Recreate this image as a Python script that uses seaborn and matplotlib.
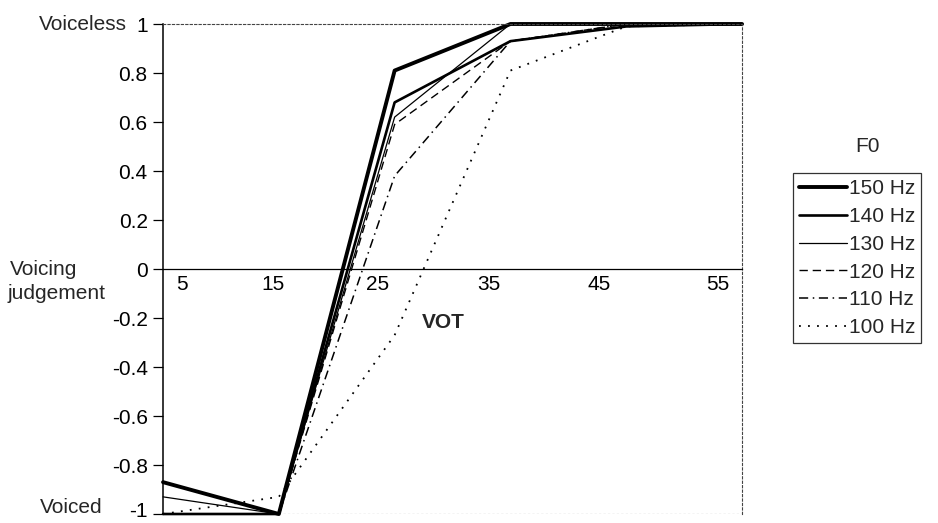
import matplotlib
matplotlib.use("Agg")
import matplotlib.pyplot as plt  # noqa: E402
import matplotlib.transforms as mtrans  # noqa: E402
import pandas as pd  # noqa: E402
import seaborn as sns  # noqa: E402

sns.set_theme(style="white")
plt.rcParams["font.family"] = ["Liberation Sans", "DejaVu Sans"]

FS = 15

# continuum steps along the VOT axis (one per stimulus)
vot_steps = [0, 1, 2, 3, 4, 5]
vot_labels = ["5", "15", "25", "35", "45", "55"]
vot_label_pos = [0.16, 0.95, 1.85, 2.81, 3.77, 4.79]

# mean voicing judgement (-1 voiced ... +1 voiceless) per F0 condition
f0_150 = [-0.87, -1.00, 0.81, 1.00, 1.00, 1.00]
f0_140 = [-1.00, -1.00, 0.68, 0.93, 0.99, 1.00]
f0_130 = [-0.93, -1.00, 0.62, 1.00, 1.00, 1.00]
f0_120 = [-1.00, -1.00, 0.59, 0.93, 1.00, 1.00]
f0_110 = [-1.00, -1.00, 0.38, 0.93, 1.00, 1.00]
f0_100 = [-1.00, -0.93, -0.27, 0.81, 0.99, 1.00]

series = {
    "150 Hz": f0_150,
    "140 Hz": f0_140,
    "130 Hz": f0_130,
    "120 Hz": f0_120,
    "110 Hz": f0_110,
    "100 Hz": f0_100,
}
# line width, line style
styles = {
    "150 Hz": (2.8, "-"),
    "140 Hz": (1.9, "-"),
    "130 Hz": (0.9, "-"),
    "120 Hz": (1.0, (0, (6, 3.5))),
    "110 Hz": (1.1, (0, (6, 3, 1, 3))),
    "100 Hz": (1.3, (0, (1, 4))),
}

y_ticks = [1, 0.8, 0.6, 0.4, 0.2, 0, -0.2, -0.4, -0.6, -0.8, -1]
y_tick_labels = ["1", "0.8", "0.6", "0.4", "0.2", "0",
                 "-0.2", "-0.4", "-0.6", "-0.8", "-1"]

fig = plt.figure(figsize=(9.38, 5.23), dpi=100)
ax = fig.add_axes([0.1738, 0.0172, 0.6173, 0.9369])

for name, vals in series.items():
    lw, ls = styles[name]
    df = pd.DataFrame({"step": vot_steps, "judgement": vals})
    sns.lineplot(data=df, x="step", y="judgement", ax=ax, color="black",
                 lw=lw, linestyle=ls, label=name, clip_on=False, legend=False)

ax.set_xlim(0, 5)
ax.set_ylim(-1, 1)

# category axis sits on the zero line
ax.spines["bottom"].set_position(("data", 0))
ax.spines["bottom"].set_color("black")
ax.spines["bottom"].set_linewidth(0.9)
ax.spines["left"].set_color("black")
ax.spines["left"].set_linewidth(1.1)
for s in ("top", "right"):
    ax.spines[s].set_color("#444444")
    ax.spines[s].set_linestyle((0, (2, 2)))
    ax.spines[s].set_linewidth(0.8)
ax.axhline(-1, color="#444444", lw=0.8, ls=(0, (2, 2)), zorder=0)

ax.set_xticks(vot_label_pos, vot_labels)
ax.set_yticks(y_ticks, y_tick_labels)
ax.tick_params(axis="x", length=0, pad=4, labelsize=FS, colors="black")
ax.tick_params(axis="y", direction="out", length=7, width=0.9, pad=4,
               labelsize=FS, colors="black", left=True)
ax.set_xlabel("")
ax.set_ylabel("")

# lift the bottom "-1" label a touch so it is not cut by the figure edge
low = ax.get_yticklabels()[-1]
low.set_transform(low.get_transform()
                  + mtrans.ScaledTranslation(0, 3 / 72, fig.dpi_scale_trans))

tr = ax.get_yaxis_transform()
ax.text(-0.062, 1.0, "Voiceless", transform=tr, ha="right", va="center", fontsize=FS)
ax.text(-0.265, 0.0, "Voicing", transform=tr, ha="left", va="center", fontsize=FS)
ax.text(-0.268, -0.10, "judgement", transform=tr, ha="left", va="center", fontsize=FS)
ax.text(-0.159, -0.975, "Voiced", transform=tr, ha="center", va="center", fontsize=FS)
ax.text(2.42, -0.22, "VOT", ha="center", va="center", fontsize=FS, fontweight="bold")

fig.text(0.925, 0.719, "F0", ha="center", va="center", fontsize=FS)
handles, labels = ax.get_legend_handles_labels()
leg = ax.legend(handles, labels, loc="upper left", bbox_to_anchor=(0.845, 0.669),
                bbox_transform=fig.transFigure, frameon=True, fancybox=False,
                edgecolor="black", fontsize=FS, handlelength=2.3,
                handletextpad=0.1, labelspacing=0.42, borderpad=0.3,
                borderaxespad=0)
leg.get_frame().set_linewidth(0.9)

fig.savefig("out.png", dpi=100, facecolor="white")
